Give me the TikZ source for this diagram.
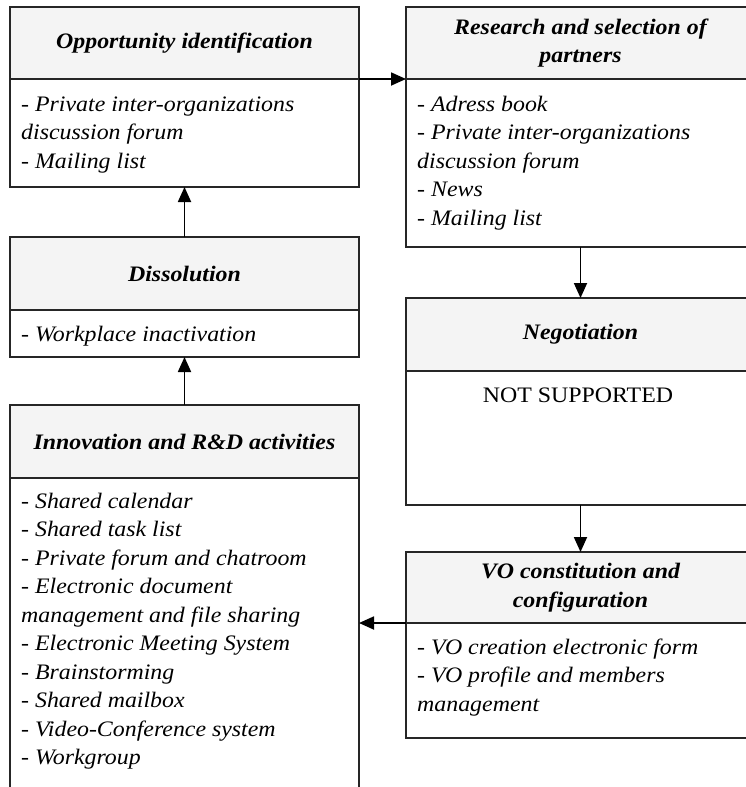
\documentclass[tikz,border=0pt]{standalone}
\usepackage{fontspec}
\setmainfont[FakeStretch=1.08]{Liberation Serif}
\usetikzlibrary{arrows.meta}
\definecolor{headfill}{HTML}{F4F4F4}
\begin{document}
\begin{tikzpicture}[x=1pt,y=-1pt,
  frame/.style={draw=black!85, line width=1.7pt, inner sep=0pt, outer sep=0pt, anchor=north west, minimum width=349pt},
  head/.style={frame, fill=headfill},
  body/.style={frame, fill=white},
  title/.style={font=\fontsize{22.1}{28.5}\selectfont\bfseries\itshape, align=center, inner sep=0pt},
  items/.style={font=\fontsize{22.1}{28.5}\selectfont\itshape, align=left, inner sep=0pt, anchor=north west},
  plain/.style={font=\fontsize{22.1}{28.5}\selectfont, inner sep=0pt},
  flow/.style={line width=1.8pt, -{Triangle[length=15pt,width=13pt]}}
]
\useasboundingbox (0,0) rectangle (746,787);
\clip (0,0) rectangle (746,787);
\fill[white] (0,0) rectangle (746,787);

% left column
\node[head, minimum height=72pt] (oppH) at (10,7) {};
\node[body, minimum height=108pt] (oppB) at (10,79) {};
\node[head, minimum height=73pt] (dissH) at (10,237) {};
\node[body, minimum height=47pt] (dissB) at (10,310) {};
\node[head, minimum height=73pt] (innH) at (10,405) {};
\node[body, minimum height=330pt] (innB) at (10,478) {};

% right column
\node[head, minimum height=72pt] (resH) at (406,7) {};
\node[body, minimum height=168pt] (resB) at (406,79) {};
\node[head, minimum height=73pt] (negH) at (406,298) {};
\node[body, minimum height=134pt] (negB) at (406,371) {};
\node[head, minimum height=71pt] (voH) at (406,552) {};
\node[body, minimum height=115pt] (voB) at (406,623) {};

% flow between phases
\draw[flow] (oppH.south east) -- (resH.south west);
\draw[flow] (resB.south) -- (negH.north);
\draw[flow] (negB.south) -- (voH.north);
\draw[flow] (voH.south west) -- (voH.south west -| innB.east);
\draw[flow] (innH.north) -- (dissB.south);
\draw[flow] (dissH.north) -- (oppB.south);

% titles
\node[title] (oppT) at (oppH) {Opportunity identification};
\node[title] (resT) at (resH) {Research and selection of\\partners};
\node[title] (dissT) at (dissH) {Dissolution};
\node[title] (negT) at (negH) {Negotiation};
\node[title] (innT) at (innH) {Innovation and R\&D activities};
\node[title] (voT) at (voH) {VO constitution and\\configuration};

% supporting tools
\node[items] (oppL) at (21,91) {\strut- Private inter-organizations\\discussion forum\\- Mailing list};
\node[items] (resL) at (417,91) {\strut- Adress book\\- Private inter-organizations\\discussion forum\\- News\\- Mailing list};
\node[items] (dissL) at (21,321) {\strut- Workplace inactivation};
\node[plain] (negL) at (578,395) {NOT SUPPORTED};
\node[items] (innL) at (21,488) {\strut- Shared calendar\\- Shared task list\\- Private forum and chatroom\\- Electronic document\\management and file sharing\\- Electronic Meeting System\\- Brainstorming\\- Shared mailbox\\- Video-Conference system\\- Workgroup};
\node[items] (voL) at (417,634) {\strut- VO creation electronic form\\- VO profile and members\\management};
\end{tikzpicture}
\end{document}
